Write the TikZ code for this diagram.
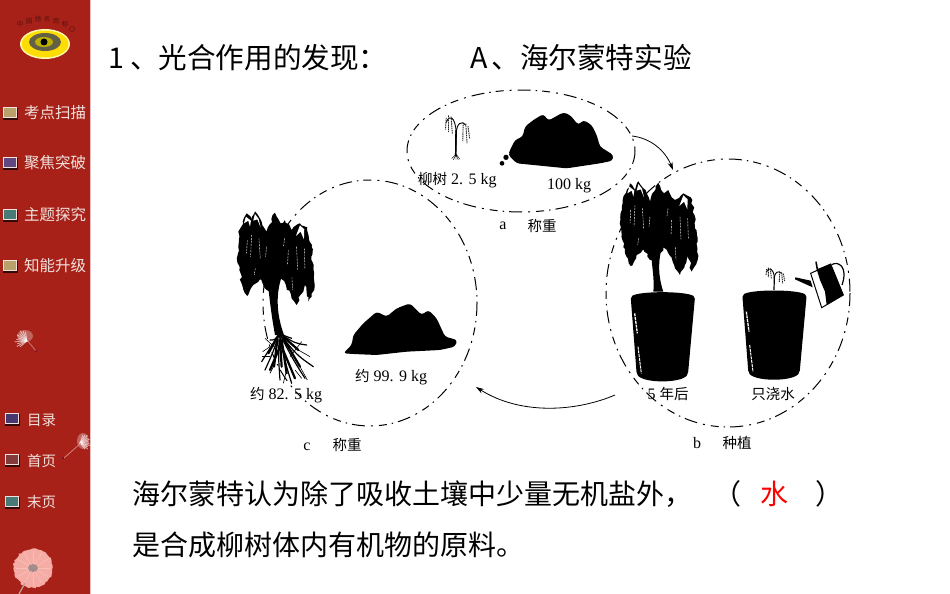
\documentclass[tikz,border=0pt]{standalone}
\usepackage{fontspec}
\setmainfont{Liberation Serif}
\newfontfamily\cjk{Noto Sans CJK SC}
\usetikzlibrary{decorations.pathmorphing,arrows.meta}
\definecolor{barred}{RGB}{168,33,25}
\definecolor{barpink}{RGB}{232,190,190}
\definecolor{side}{RGB}{240,225,220}
\definecolor{btntan}{RGB}{186,160,106}
\definecolor{btnviolet}{RGB}{98,72,128}
\definecolor{btnteal}{RGB}{72,122,120}
\definecolor{btndeep}{RGB}{72,56,112}
\definecolor{btnrose}{RGB}{130,58,58}
\definecolor{petal}{RGB}{245,172,165}
\tikzset{
  sidelabel/.style={text=side,anchor=west,inner sep=0pt,font=\cjk\fontsize{15.5}{15}\selectfont},
  lowlabel/.style={text=side,anchor=west,inner sep=0pt,font=\cjk\fontsize{14.5}{15}\selectfont},
  heading/.style={anchor=west,inner sep=0pt,font=\cjk\fontsize{28.6}{28}\selectfont},
  bodytext/.style={anchor=west,inner sep=0pt,font=\cjk\fontsize{28}{28}\selectfont},
  plantlabel/.style={inner sep=0pt,font=\fontsize{16}{16}\selectfont},
  cyclering/.style={line width=1pt,dash pattern=on 13pt off 5pt on 1.5pt off 5pt on 8pt off 6pt on 2pt off 6pt},
  cyclearrow/.style={line width=0.8pt,-{Stealth[length=8pt,width=5pt]}},
}
\newcommand{\cjksmall}[1]{{\cjk\fontsize{14.5}{15}\selectfont #1}}
% one square menu button: light frame, dark lower edge, coloured face
\newcommand{\menubutton}[3]{%
  \fill[black!70!barred] (#1-0.5,#2+1) rectangle (#1+14.5,#2+12.5);
  \fill[side] (#1,#2) rectangle (#1+14,#2+11);
  \fill[#3] (#1+1.2,#2+1.2) rectangle (#1+13,#2+10);
}
% weeping willow crown, in its own fine coordinates
\newcommand{\willowcrown}{%
  \fill[black,decorate,decoration={random steps,segment length=3.5pt,amplitude=1.3pt}]
    (62,200)--(68,120)--(90,70)--(105,90)--(115,64)--(130,85)--(150,125)--(175,68)--(192,100)
    --(205,90)--(225,120)--(250,100)--(272,112)--(285,170)--(293,300)--(275,335)--(265,285)
    --(240,345)--(225,325)--(208,285)--(190,262)--(172,300)--(150,300)--(130,268)--(110,285)
    --(92,318)--(75,280)--cycle;
  \fill[white] (88,80)--(82,100)--(95,92)--(100,110)--(103,92)--cycle;
  \fill[white] (115,72)--(110,92)--(122,88)--(132,112)--(126,86)--cycle;
  \fill[white] (250,106)--(238,138)--(252,125)--(262,148)--(263,118)--cycle;
  \foreach \xa/\ya/\xb/\yb in {92/150/90/190,105/135/102/200,127/145/131/205,
      150/170/147/200,215/180/213/225,240/170/243/240,263/175/265/235,
      226/262/228/300,116/235/113/255,204/145/201/168}
    \draw[white,line width=0.4pt,dash pattern=on 2pt off 1pt] (\xa,\ya)--(\xb,\yb);
}
% small sapling with two drooping branches
\newcommand{\sapling}{%
  \draw[black,line width=1.2pt] (25,85)--(26,45);
  \draw[black,line width=0.9pt] (26,48) .. controls (27,32) and (38,25) .. (48,35);
  \draw[black,line width=0.9pt] (26,48) .. controls (24,20) and (10,15) .. (3,30);
  \draw[black!85,line width=0.9pt,dash pattern=on 1.5pt off 0.7pt] (3,22)--(1,42) (8,18)--(8,46) (14,20)--(17,50);
  \draw[black!85,line width=0.9pt,dash pattern=on 1.5pt off 0.7pt] (42,30)--(41,62) (48,32)--(51,66) (53,36)--(57,58);
}
% one tall pot: rim, tapering wall and pale highlights
\newcommand{\plantpot}{%
  \fill[black,rounded corners=2pt] (0,20) .. controls (30,3) and (160,3) .. (193,20) -- (172,252)
    .. controls (150,280) and (40,280) .. (18,252) -- cycle;
  \draw[white,line width=1.3pt,dash pattern=on 3pt off 0.8pt] (12,70)--(20,130);
  \draw[white,line width=1pt,dash pattern=on 3pt off 0.8pt] (22,170)--(32,250);
}
\begin{document}
\begin{tikzpicture}[x=1pt,y=-1pt]
\useasboundingbox (0,0) rectangle (950,594);
\fill[white] (0,0) rectangle (950,594);

% ---- side bar ----
\fill[barred] (0,0) rectangle (89.5,594);
\fill[barpink] (89.5,0) rectangle (91,594);

% brand badge
\fill[white!70!yellow] (45,44) ellipse [x radius=25,y radius=15];
\fill[yellow!80!orange] (45,44) ellipse [x radius=23.5,y radius=13.5];
\fill[black!70!yellow] (45,42) ellipse [x radius=16,y radius=9];
\fill[olive!60!yellow] (44,42) ellipse [x radius=9,y radius=5];
\fill[black] (44,42) circle (3.5);
\foreach \ch/\px/\py in {中/20/24,国/29/21,驰/38/19,名/47/19,商/56/21,标/65/24}
  \node[inner sep=0pt,text=black!50!barred,font=\cjk\fontsize{6.5}{7}\selectfont] (logo\ch) at (\px,\py) {\ch};
\draw[black!50!barred,line width=.4pt] (72,29) circle (2.5);

\menubutton{3}{107}{btntan}
\menubutton{3}{157}{btnviolet}
\menubutton{3}{209}{btnteal}
\menubutton{3}{260}{btntan}
\node[sidelabel] (menua) at (24,113) {考点扫描};
\node[sidelabel] (menub) at (24,163) {聚焦突破};
\node[sidelabel] (menuc) at (24,215) {主题探究};
\node[sidelabel] (menud) at (24,266) {知能升级};

\menubutton{5}{413}{btndeep}
\menubutton{5}{454}{btnrose}
\menubutton{5}{496}{btnteal}
\node[lowlabel] (navA) at (27,420) {目录};
\node[lowlabel] (navB) at (27,461) {首页};
\node[lowlabel] (navC) at (27,502) {末页};

% dandelion seeds drifting down the bar
\fill[white,opacity=.3] (25,336) ellipse [x radius=8,y radius=6];
\foreach \a in {-100,-112,...,-230}
  \draw[white,opacity=.6,line width=0.9pt,line cap=round] (27,341)--++(\a:{9+mod(-\a,5)*0.8});
\draw[barpink!70!barred,line width=.6pt] (27,340)--(36,351);
\fill[violet!60!black] (36,351) circle (0.9);
\fill[white,opacity=.3] (83,441) ellipse [x radius=6,y radius=8];
\foreach \a in {-70,-58,...,60}
  \draw[white,opacity=.6,line width=0.9pt,line cap=round] (80,443)--++(\a:{8+mod(\a+70,5)*0.6});
\draw[barpink!70!barred,line width=.7pt] (81,443)--(64,458);
\fill[violet!60!black] (63,458) circle (0.9);
\fill[petal,decorate,decoration={random steps,segment length=2pt,amplitude=1pt}] (33,568) circle (19.5);
\foreach \a in {0,30,...,330}
  \draw[white,opacity=.25,line width=.6pt] (33,568)--++(\a:17);
\fill[gray!70!petal] (33,568) ellipse [x radius=5,y radius=4];
\draw[petal!60!gray,line width=1.3pt] (25,583)--(19,594);

% ---- heading ----
\node[heading] (titlea) at (108,58) {1\hspace{6pt}、光合作用的发现：};
\node[heading] (titleb) at (470,58) {A\hspace{4pt}、海尔蒙特实验};

% ---- dashed cycle rings ----
\draw[cyclering] (521,151) ellipse [x radius=114,y radius=61];
\draw[cyclering] (370,303) ellipse [x radius=107,y radius=123];
\draw[cyclering] (728,293) ellipse [x radius=122,y radius=134];

% ---- stage a: weighing the sapling and the soil ----
\begin{scope}[shift={(400,80)},scale=1/3]
  \begin{scope}[shift={(135,75)},yscale=1.75,xscale=1.3]\sapling\end{scope}
  \draw[black,line width=1.4pt] (168,150)--(167,225);
  \draw[black,line width=0.4pt] (168,222)--(155,236) (168,222)--(180,238) (168,222)--(168,240) (168,224)--(160,240) (168,224)--(175,240);
  \fill[black,rounded corners=3pt] (330,210)--(345,180)--(368,170)--(375,140)--(400,120)--(430,102)
    --(445,122)--(490,97)--(510,105)--(535,135)--(550,120)--(575,135)--(590,165)--(600,200)
    --(640,225)--(638,242)--(600,250)--(500,265)--(400,255)--(350,250)--(325,225)--cycle;
  \fill[black] (306,250) circle (7);
  \fill[black] (318,232) circle (8);
\end{scope}
\node[plantlabel,anchor=west] (aplant) at (418,180) {\cjksmall{柳树} 2. 5 kg};
\node[plantlabel,anchor=west] (asoil) at (547,186) {100 kg};
\node[plantlabel,anchor=center] (atag) at (503,226) {a};
\node[plantlabel,anchor=center] (aname) at (542,226) {\cjksmall{称重}};

% ---- stage b: five years of growing in a pot ----
\begin{scope}[shift={(600,160)},scale=1/3]
  \willowcrown
  \fill[black] (155,225) .. controls (148,300) and (165,340) .. (160,395) -- (190,395)
    .. controls (175,350) and (170,300) .. (195,230) -- cycle;
  \begin{scope}[shift={(92,390)}]\plantpot\end{scope}
  \begin{scope}[shift={(427,385)}]\plantpot\end{scope}
  \begin{scope}[shift={(497,305)}]\sapling\end{scope}
  % watering can
  \draw[black,line width=1pt,fill=white] (632,340)--(692,312)--(730,405)--(665,443)--cycle;
  \fill[black] (650,328)--(692,312)--(730,405)--(680,435)--(675,395)--(660,360)--cycle;
  \draw[black,line width=1.6pt] (648,305)--(652,328);
  \draw[black,line width=1.2pt] (695,314) .. controls (715,302) and (745,320) .. (726,375);
  \fill[black] (632,362)--(586,352)--(585,358)--(638,382)--cycle;
\end{scope}
\node[plantlabel] (bfive) at (668,394) {5 \cjksmall{年后}};
\node[plantlabel] (bwater) at (773,394) {\cjksmall{只浇水}};
\node[plantlabel] (btag) at (697,443) {b};
\node[plantlabel] (bname) at (737,443) {\cjksmall{种植}};

% ---- stage c: weighing again ----
\begin{scope}[shift={(216.6,190)},scale=1/3]
  \willowcrown
\end{scope}
\begin{scope}[shift={(220,170)},scale=1/3]
  \fill[black] (140,310) .. controls (150,400) and (155,440) .. (165,495) -- (192,495)
    .. controls (172,440) and (165,380) .. (185,320) -- cycle;
  % thick roots and their finer branches
  \foreach \xb/\yb/\xc/\yc in {125/575/150/530,135/600/160/545,180/630/175/560,215/640/195/575,
      255/625/220/570,280/590/230/555,260/525/225/520,215/505/200/500,150/510/165/510}
    \draw[black,line width=1.2pt,line cap=round] (178,490) .. controls (\xc,\yc) and (\xc,\yc) .. (\xb,\yb);
  \foreach \xa/\ya/\xb/\yb in {172/510/162/590,185/510/200/610,180/510/185/590,170/505/145/550,
      190/505/240/590,190/500/235/540,180/530/150/600,185/530/225/625}
    \draw[black,line width=2.2pt,line cap=round] (\xa,\ya)--(\xb,\yb);
  \foreach \xa/\ya/\xb/\yb in {150/530/128/545,150/560/125/560,160/590/150/610,200/600/190/640,
      240/590/262/630,235/540/270/560,225/600/245/625,210/560/245/515,162/530/135/505}
    \draw[black,line width=0.6pt] (\xa,\ya)--(\xb,\yb);
  \fill[black,rounded corners=3pt] (370,550)--(395,525)--(400,495)--(430,460)--(470,425)--(500,440)
    --(530,415)--(570,400)--(605,435)--(625,420)--(650,445)--(675,500)--(712,510)--(705,530)
    --(660,540)--(560,545)--(470,555)--(400,552)--cycle;
\end{scope}
\node[plantlabel,anchor=west] (cplant) at (250,395) {\cjksmall{约} 82. 5 kg};
\node[plantlabel,anchor=west] (csoil) at (355,377) {\cjksmall{约} 99. 9 kg};
\node[plantlabel] (ctag) at (307,447) {c};
\node[plantlabel] (cname) at (347,445) {\cjksmall{称重}};

% ---- arrows between the stages ----
\coordinate (abstart) at (632,136);
\coordinate (abend) at (673,170);
\coordinate (bcstart) at (615,395);
\coordinate (bcend) at (476,387);
\draw[cyclearrow] (abstart) .. controls (650,138) and (665,150) .. (abend);
\draw[cyclearrow] (bcstart) .. controls (575,412) and (520,415) .. (bcend);

% ---- conclusion ----
\node[bodytext] (linea) at (132,494) {海尔蒙特认为除了吸收土壤中少量无机盐外，};
\node[bodytext] (open) at (713,494) {（};
\node[bodytext,text=red] (answer) at (760,494) {水};
\node[bodytext] (close) at (815,494) {）};
\node[bodytext] (lineb) at (132,545) {是合成柳树体内有机物的原料。};
\end{tikzpicture}
\end{document}
